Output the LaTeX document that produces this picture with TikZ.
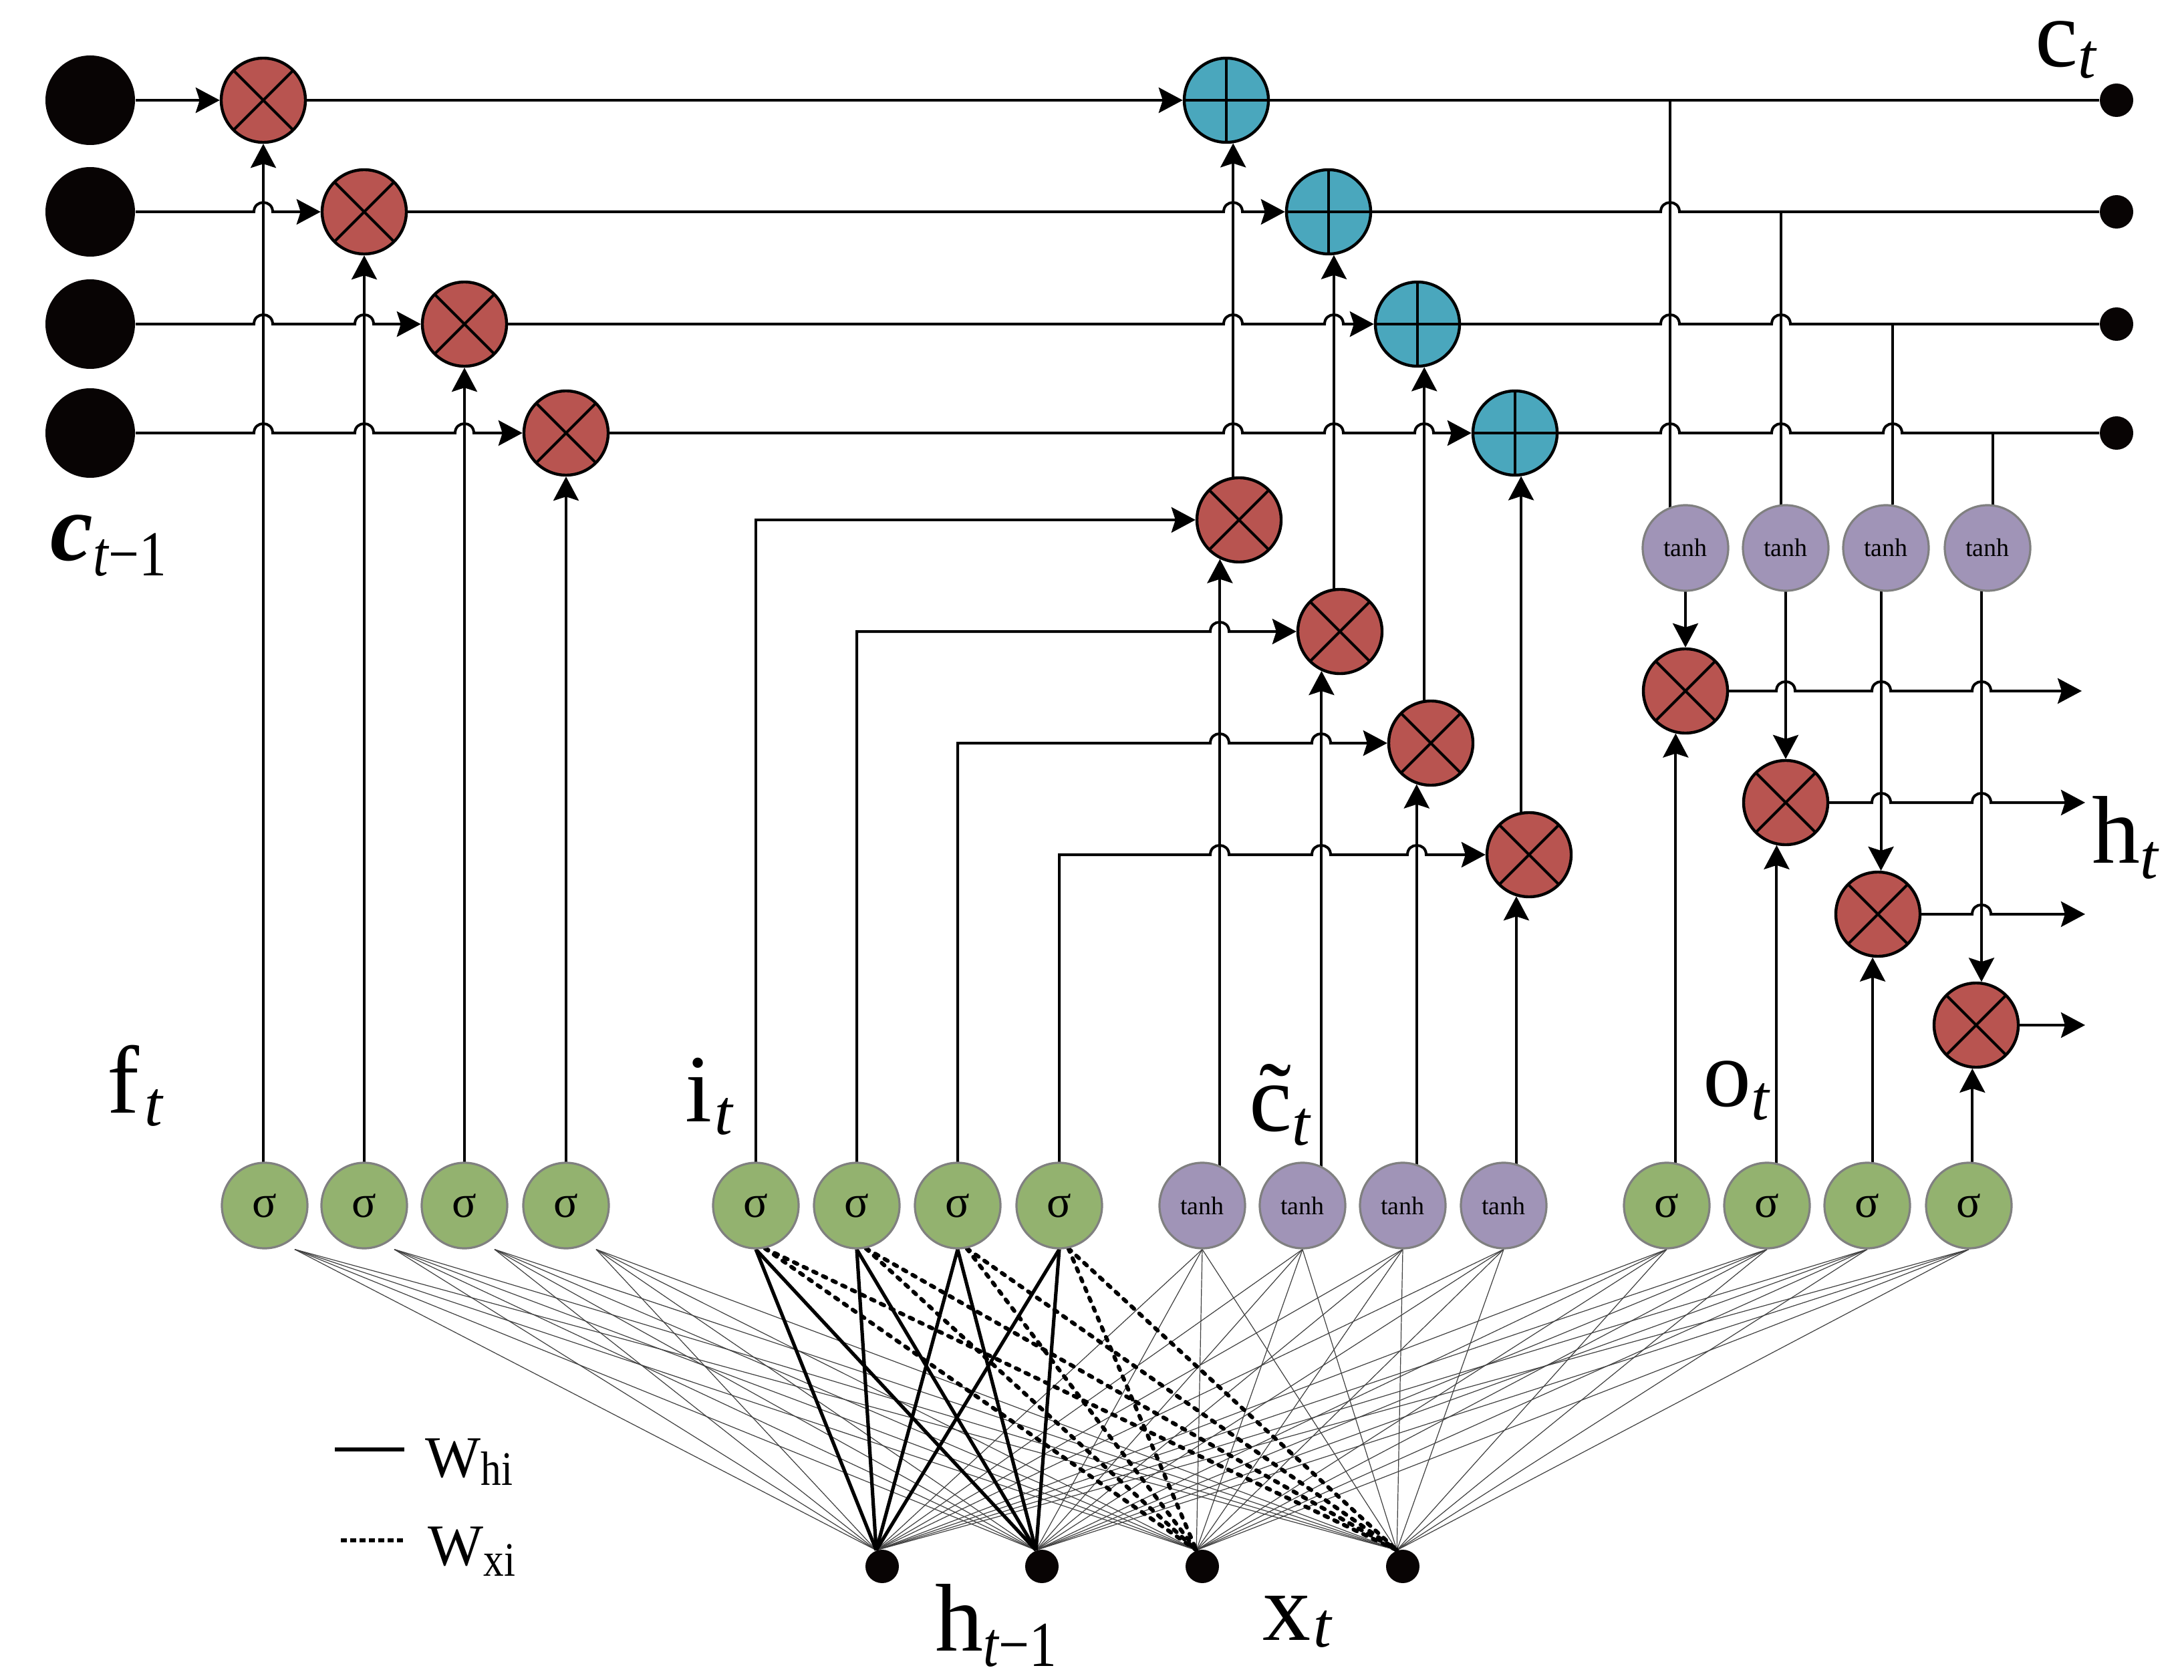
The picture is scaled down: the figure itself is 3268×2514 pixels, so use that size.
\documentclass[tikz,border=0pt]{standalone}
\usepackage{fontspec}
\setmainfont{Liberation Serif}
\usepackage{graphicx}
\usetikzlibrary{calc,arrows.meta}
\pgfdeclarelayer{bg}
\pgfsetlayers{bg,main}
\definecolor{redc}{RGB}{184,84,80}
\definecolor{bluec}{RGB}{74,167,189}
\definecolor{greenc}{RGB}{147,178,111}
\definecolor{purplec}{RGB}{160,148,183}
\definecolor{grayb}{RGB}{128,128,128}
\definecolor{dotc}{RGB}{8,4,4}
\newcommand\hopx[2]{-- ({#1-14},#2) .. controls ({#1-14},{#2-18.7}) and ({#1+14},{#2-18.7}) .. ({#1+14},#2)}
\newcommand\labfont{\fontsize{36}{40}\selectfont}
\newcommand\sbfont{\fontsize{24}{26}\selectfont}
\newcommand\wfont{\fontsize{22}{24}\selectfont}
\newcommand\wsbfont{\fontsize{18}{19}\selectfont}
\begin{document}
\begin{tikzpicture}[x=0.25pt,y=-0.25pt,
  mult/.style={circle,draw=black,line width=1.1pt,fill=redc,minimum size=31.5pt,inner sep=0pt,
    path picture={\draw[line width=1pt] (path picture bounding box.north west) -- (path picture bounding box.south east)
      (path picture bounding box.north east) -- (path picture bounding box.south west);}},
  plusn/.style={circle,draw=black,line width=1.1pt,fill=bluec,minimum size=31.5pt,inner sep=0pt,
    path picture={\draw[line width=1pt] (path picture bounding box.north) -- (path picture bounding box.south)
      (path picture bounding box.west) -- (path picture bounding box.east);}},
  sig/.style={circle,draw=grayb,line width=0.8pt,fill=greenc,minimum size=32pt,inner sep=0pt,font=\fontsize{17}{17}\selectfont},
  tanhn/.style={circle,draw=grayb,line width=0.8pt,fill=purplec,minimum size=32pt,inner sep=0pt,font=\fontsize{9.5}{9.5}\selectfont},
  bigdot/.style={circle,fill=dotc,minimum size=33.5pt,inner sep=0pt},
  smalldot/.style={circle,fill=dotc,minimum size=12.5pt,inner sep=0pt},
  conn/.style={line width=1pt,black},
  arr/.style={conn,-{Stealth[length=9pt,width=9.5pt,inset=1.5pt]}},
  fan/.style={line width=0.3pt,black!75},
  whi/.style={line width=1.3pt,black},
  wxi/.style={line width=1.5pt,black,line cap=round,dash pattern=on 1.4pt off 2.6pt},
  legdash/.style={line width=1.3pt,black,dash pattern=on 2.2pt off 1.3pt},
  lab/.style={anchor=base west,inner sep=0pt,font=\labfont}]
\useasboundingbox (0,0) rectangle (3268,2514);
% cell state rows
\node[bigdot] (d1) at (135,150) {};
\node[bigdot] (d2) at (135,317) {};
\node[bigdot] (d3) at (135,485) {};
\node[bigdot] (d4) at (135,648) {};
\node[mult] (fm1) at (394,150) {};
\node[mult] (fm2) at (545,317) {};
\node[mult] (fm3) at (695,485) {};
\node[mult] (fm4) at (847,648) {};
\node[plusn] (p1) at (1835,150) {};
\node[plusn] (p2) at (1988,317) {};
\node[plusn] (p3) at (2121,485) {};
\node[plusn] (p4) at (2267,648) {};
\node[smalldot] (rd1) at (3167,150) {};
\node[smalldot] (rd2) at (3167,317) {};
\node[smalldot] (rd3) at (3167,485) {};
\node[smalldot] (rd4) at (3167,648) {};
% input multiplications
\node[mult] (im1) at (1854,778) {};
\node[mult] (im2) at (2005,945) {};
\node[mult] (im3) at (2141,1112) {};
\node[mult] (im4) at (2288,1279) {};
% output tanh and multiplications
\node[tanhn] (to1) at (2522,820) {tanh};
\node[tanhn] (to2) at (2672,820) {tanh};
\node[tanhn] (to3) at (2822,820) {tanh};
\node[tanhn] (to4) at (2974,820) {tanh};
\node[mult] (om1) at (2522,1034) {};
\node[mult] (om2) at (2672,1201) {};
\node[mult] (om3) at (2810,1368) {};
\node[mult] (om4) at (2957,1534) {};
\coordinate (oe1) at (3115,1034);
\coordinate (oe2) at (3120,1201);
\coordinate (oe3) at (3120,1368);
\coordinate (oe4) at (3120,1534);
% gate layer
\node[sig] (fs1) at (396,1804) {σ};
\node[sig] (fs2) at (545,1804) {σ};
\node[sig] (fs3) at (695,1804) {σ};
\node[sig] (fs4) at (847,1804) {σ};
\node[sig] (is1) at (1131,1804) {σ};
\node[sig] (is2) at (1282,1804) {σ};
\node[sig] (is3) at (1433,1804) {σ};
\node[sig] (is4) at (1585,1804) {σ};
\node[tanhn] (ct1) at (1799,1804) {tanh};
\node[tanhn] (ct2) at (1949,1804) {tanh};
\node[tanhn] (ct3) at (2099,1804) {tanh};
\node[tanhn] (ct4) at (2250,1804) {tanh};
\node[sig] (os1) at (2494,1804) {σ};
\node[sig] (os2) at (2644,1804) {σ};
\node[sig] (os3) at (2794,1804) {σ};
\node[sig] (os4) at (2946,1804) {σ};
% inputs
\node[smalldot] (h1) at (1320,2344) {};
\node[smalldot] (h2) at (1559,2344) {};
\node[smalldot] (x1) at (1799,2344) {};
\node[smalldot] (x2) at (2099,2344) {};
% labels
\node[lab] (lct) at (3045,100) {c\raisebox{-4.25pt}{\sbfont\itshape t}};
\node[lab] (lcp) at (75,838) {\textbf{\textit{c}}\raisebox{-5.75pt}{\sbfont\scalebox{0.85}[1]{\itshape t\upshape −1}}};
\node[lab] (lft) at (160,1665) {f\kern2pt\raisebox{-4.75pt}{\sbfont\itshape t}};
\node[lab] (lit) at (1025,1678) {i\kern1pt\raisebox{-4.75pt}{\sbfont\itshape t}};
\node[lab] (lctl) at (1869,1692) {\~{c}\raisebox{-5.25pt}{\sbfont\itshape t}};
\node[lab] (lot) at (2548,1655) {o\raisebox{-5pt}{\sbfont\itshape t}};
\node[lab] (lht) at (3130,1291) {h\raisebox{-5.75pt}{\sbfont\itshape t}};
\node[lab] (lhp) at (1399,2470) {h\raisebox{-5.75pt}{\sbfont\scalebox{0.85}[1]{\itshape t\upshape −1}}};
\node[lab] (lxt) at (1889,2454) {x\kern1pt\raisebox{-2.5pt}{\sbfont\itshape t}};
% legend
\coordinate (la1) at (501,2169);
\coordinate (la2) at (605,2169);
\coordinate (lb1) at (510,2305);
\coordinate (lb2) at (607,2305);
\node[anchor=base west,inner sep=0pt,font=\wfont] (lwhi) at (636,2210) {W\raisebox{-3pt}{\wsbfont\scalebox{0.85}[1]{hi}}};
\node[anchor=base west,inner sep=0pt,font=\wfont] (lwxi) at (640,2342) {W\raisebox{-4pt}{\wsbfont\scalebox{0.85}[1]{xi}}};
\begin{pgfonlayer}{bg}
\fill[white] (0,0) rectangle (3268,2514);
% fan connections
\foreach \g in {fs1,fs2,fs3,fs4}{\foreach \d in {h1,h2,x1,x2}{\draw[fan] ($(\g.south)+(45,0)$) -- (\d.110);}}
\foreach \g in {ct1,ct2,ct3,ct4,os1,os2,os3,os4}{\foreach \d in {h1,h2,x1,x2}{\draw[fan] (\g.south) -- (\d.110);}}
\foreach \g in {is1,is2,is3,is4}{\foreach \d in {x1,x2}{\draw[wxi] (\g.282) -- (\d.110);}}
\foreach \g in {is1,is2,is3,is4}{\foreach \d in {h1,h2}{\draw[whi] (\g.south) -- (\d.110);}}
% legend lines
\draw[whi] (la1) -- (la2);
\draw[legdash] (lb1) -- (lb2);
% forget gate
\draw[arr] (fm1.south |- fs1.center) -- (fm1.south);
\draw[arr] (fm2.south |- fs2.center) -- (fm2.south);
\draw[arr] (fm3.south |- fs3.center) -- (fm3.south);
\draw[arr] (fm4.south |- fs4.center) -- (fm4.south);
% previous cell rows
\draw[arr] (d1.east) -- (fm1.west);
\draw[arr] (d2.east) \hopx{394}{317} -- (fm2.west);
\draw[arr] (d3.east) \hopx{394}{485} \hopx{545}{485} -- (fm3.west);
\draw[arr] (d4.east) \hopx{394}{648} \hopx{545}{648} \hopx{695}{648} -- (fm4.west);
\draw[arr] (fm1.east) -- (p1.west);
\draw[arr] (fm2.east) \hopx{1845}{317} -- (p2.west);
\draw[arr] (fm3.east) \hopx{1845}{485} \hopx{1996}{485} -- (p3.west);
\draw[arr] (fm4.east) \hopx{1845}{648} \hopx{1996}{648} \hopx{2131}{648} -- (p4.west);
\draw[conn] (p1.east) -- (rd1.west);
\draw[conn] (p2.east) \hopx{2499}{317} -- (rd2.west);
\draw[conn] (p3.east) \hopx{2499}{485} \hopx{2665}{485} -- (rd3.west);
\draw[conn] (p4.east) \hopx{2499}{648} \hopx{2665}{648} \hopx{2832}{648} -- (rd4.west);
% input gate
\draw[arr] (is1.center) |- (im1.west);
\draw[arr] (is2.center) -- (is2.center |- im2.west) \hopx{1825}{945} -- (im2.west);
\draw[arr] (is3.center) -- (is3.center |- im3.west) \hopx{1825}{1112} \hopx{1977}{1112} -- (im3.west);
\draw[arr] (is4.center) -- (is4.center |- im4.west) \hopx{1825}{1279} \hopx{1977}{1279} \hopx{2120}{1279} -- (im4.west);
% candidate
\draw[arr] (im1.244 |- ct1.center) -- (im1.244);
\draw[arr] (im2.245 |- ct2.center) -- (im2.245);
\draw[arr] (im3.251 |- ct3.center) -- (im3.251);
\draw[arr] (im4.253 |- ct4.center) -- (im4.253);
% input products to sums
\draw[arr] (p1.279 |- im1.center) -- (p1.279);
\draw[arr] (p2.277 |- im2.center) -- (p2.277);
\draw[arr] (p3.279 |- im3.center) -- (p3.279);
\draw[arr] (p4.278 |- im4.center) -- (p4.278);
% taps to output tanh
\draw[conn] (to1.111 |- p1.center) -- (to1.111);
\draw[conn] (to2.96 |- p2.center) -- (to2.96);
\draw[conn] (to3.81 |- p3.center) -- (to3.81);
\draw[conn] (to4.83 |- p4.center) -- (to4.83);
% tanh to output products
\draw[arr] (om1.north |- to1.center) -- (om1.north);
\draw[arr] (om2.north |- to2.center) -- (om2.north);
\draw[arr] (om3.86 |- to3.center) -- (om3.86);
\draw[arr] (om4.83 |- to4.center) -- (om4.83);
% output gate
\draw[arr] (om1.257 |- os1.center) -- (om1.257);
\draw[arr] (om2.258 |- os2.center) -- (om2.258);
\draw[arr] (om3.263 |- os3.center) -- (om3.263);
\draw[arr] (om4.265 |- os4.center) -- (om4.265);
% outputs
\draw[arr] (om1.east) \hopx{2672}{1034} \hopx{2815}{1034} \hopx{2965}{1034} -- (oe1);
\draw[arr] (om2.east) \hopx{2815}{1201} \hopx{2965}{1201} -- (oe2);
\draw[arr] (om3.east) \hopx{2965}{1368} -- (oe3);
\draw[arr] (om4.east) -- (oe4);
\end{pgfonlayer}
\end{tikzpicture}
\end{document}
